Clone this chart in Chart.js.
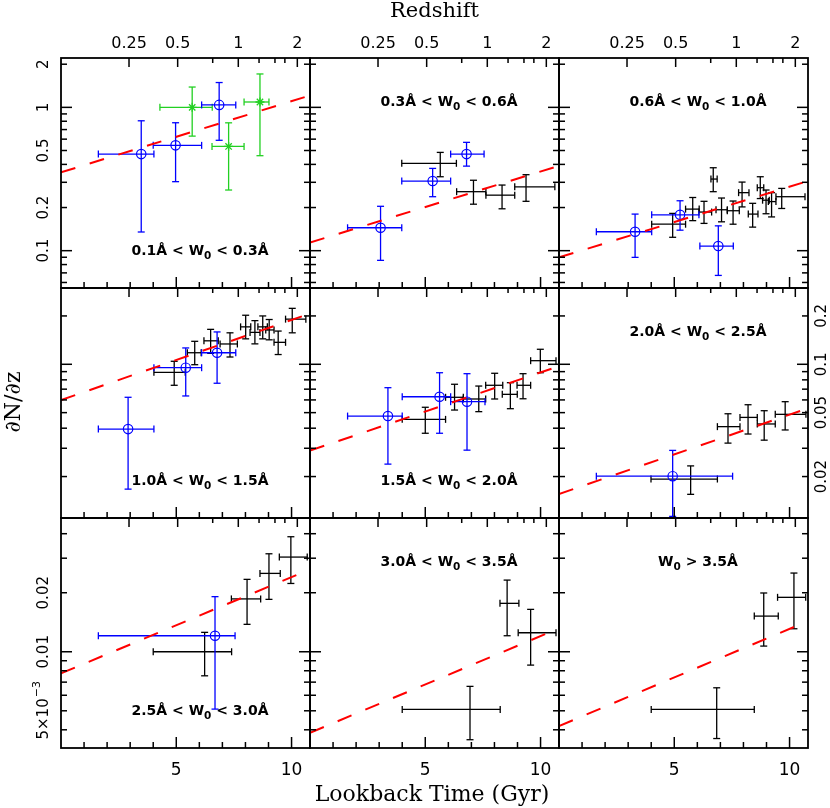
<!DOCTYPE html>
<html>
<head>
<meta charset="utf-8">
<script src="https://cdn.jsdelivr.net/npm/chart.js@4.4.1/dist/chart.umd.min.js"></script>
<style>
body { margin: 0; background: #fff; }
#wrap { position: relative; width: 830px; height: 808px; background: #fff; }
#wrap canvas { position: absolute; left: 0; top: 0; }
</style>
</head>
<body>
<div id="wrap"></div>
<script>
// each point: [lookback, lookbackLo, lookbackHi, dNdz, dNdzLo, dNdzHi]
let blue1 = [[3.48, 1.62, 4.03, 0.472, 0.135, 0.806], [4.97, 4.0, 6.1, 0.543, 0.303, 0.781], [6.86, 6.1, 7.58, 1.04, 0.589, 1.49]];
let green1 = [[5.69, 4.29, 6.56, 1.0, 0.63, 1.386], [7.27, 6.55, 7.94, 0.534, 0.265, 0.78], [8.63, 7.94, 9.02, 1.09, 0.46, 1.71]];

let blue2 = [[3.06, 1.63, 3.98, 0.1445, 0.0856, 0.204], [5.32, 3.98, 6.1, 0.306, 0.238, 0.375], [6.79, 6.1, 7.55, 0.472, 0.389, 0.57]];
let black2 = [[5.65, 3.98, 6.35, 0.407, 0.328, 0.485], [7.09, 6.36, 7.63, 0.258, 0.211, 0.31], [8.33, 7.63, 8.88, 0.244, 0.196, 0.287], [9.37, 8.88, 10.62, 0.279, 0.221, 0.339]];

let blue3 = [[3.30, 1.62, 4.02, 0.1355, 0.0898, 0.18], [5.25, 4.02, 6.07, 0.178, 0.139, 0.223], [6.91, 6.11, 7.56, 0.1077, 0.0672, 0.149]];
let black3 = [[4.93, 4.02, 5.49, 0.153, 0.124, 0.182], [5.80, 5.49, 6.08, 0.195, 0.162, 0.235], [6.29, 6.07, 6.62, 0.186, 0.155, 0.221],
    [6.69, 6.59, 6.86, 0.316, 0.258, 0.379], [7.05, 6.81, 7.30, 0.193, 0.159, 0.233], [7.55, 7.30, 7.82, 0.19, 0.153, 0.222],
    [7.94, 7.79, 8.24, 0.254, 0.202, 0.301], [8.40, 8.21, 8.63, 0.18, 0.146, 0.214], [8.73, 8.60, 8.88, 0.275, 0.231, 0.328],
    [8.98, 8.83, 9.12, 0.225, 0.181, 0.265], [9.22, 9.08, 9.41, 0.22, 0.172, 0.254], [9.66, 9.41, 10.67, 0.238, 0.197, 0.272]];

let blue4 = [[2.91, 1.62, 4.03, 0.0395, 0.0167, 0.0623], [5.41, 4.03, 6.1, 0.0952, 0.0635, 0.1264], [6.77, 6.1, 7.58, 0.118, 0.0762, 0.159]];
let black4 = [[4.91, 4.03, 5.39, 0.0891, 0.074, 0.1044], [5.80, 5.48, 6.08, 0.118, 0.0994, 0.139], [6.49, 6.2, 6.82, 0.14, 0.117, 0.165],
    [7.33, 6.9, 7.65, 0.1338, 0.111, 0.157], [8.01, 7.79, 8.23, 0.171, 0.144, 0.202], [8.41, 8.2, 8.63, 0.158, 0.134, 0.187],
    [8.75, 8.54, 8.95, 0.171, 0.144, 0.2], [9.03, 8.88, 9.24, 0.1636, 0.142, 0.19], [9.42, 9.24, 9.74, 0.137, 0.115, 0.161],
    [10.03, 9.74, 10.62, 0.191, 0.157, 0.223]];

let blue5 = [[3.38, 1.63, 4.0, 0.0476, 0.0239, 0.0715], [5.62, 4.0, 6.1, 0.0628, 0.0372, 0.0886], [6.81, 6.1, 7.59, 0.0585, 0.0292, 0.0874]];
let black5 = [[5.0, 4.0, 5.88, 0.0454, 0.0372, 0.054], [6.27, 5.88, 6.65, 0.0623, 0.0519, 0.0751], [7.32, 6.65, 7.62, 0.0608, 0.0507, 0.0732],
    [8.01, 7.62, 8.36, 0.074, 0.0608, 0.0879], [8.69, 8.34, 8.99, 0.065, 0.0529, 0.0768], [9.24, 8.98, 9.57, 0.074, 0.061, 0.0874],
    [9.99, 9.57, 10.67, 0.1053, 0.0886, 0.124]];

let blue6 = [[4.93, 1.62, 7.53, 0.0201, 0.0113, 0.0291]];
let black6 = [[5.71, 3.99, 6.87, 0.0193, 0.0155, 0.0233], [7.33, 6.87, 7.85, 0.0409, 0.0323, 0.0492], [8.2, 7.85, 8.6, 0.0467, 0.0368, 0.056],
    [8.9, 8.6, 9.38, 0.0425, 0.0337, 0.0514], [9.81, 9.38, 10.71, 0.0488, 0.039, 0.0585]];

let blue7 = [[6.68, 1.62, 7.55, 0.01207, 0.0051, 0.0191]];
let black7 = [[6.23, 4.0, 7.4, 0.01, 0.00754, 0.01256], [8.07, 7.39, 8.66, 0.0186, 0.0138, 0.0234], [9.02, 8.63, 9.51, 0.0251, 0.0185, 0.0316],
    [9.97, 9.47, 10.68, 0.0304, 0.0223, 0.0386]];

let black8 = [[6.94, 4.0, 8.25, 0.00508, 0.00356, 0.00666], [8.55, 8.24, 9.06, 0.01766, 0.01207, 0.0232], [9.57, 9.03, 10.67, 0.0125, 0.00855, 0.01645]];

let black9 = [[6.84, 4.0, 8.47, 0.00508, 0.00361, 0.00655], [8.88, 8.47, 9.51, 0.0152, 0.01069, 0.01994], [10.19, 9.48, 10.7, 0.01895, 0.0131, 0.0252]];

// dashed fit: value at lookback 0 and at the right edge
let fitStart = [0.352, 0.114, 0.0898, 0.0599, 0.029, 0.01556, 0.00776, 0.00386, 0.00418];
let fitEnd = [1.21, 0.391, 0.306, 0.207, 0.0973, 0.0532, 0.0263, 0.01316, 0.01434];

let binLabels = ["0.1Å < W|0| < 0.3Å", "0.3Å < W|0| < 0.6Å", "0.6Å < W|0| < 1.0Å",
    "1.0Å < W|0| < 1.5Å", "1.5Å < W|0| < 2.0Å", "2.0Å < W|0| < 2.5Å",
    "2.5Å < W|0| < 3.0Å", "3.0Å < W|0| < 3.5Å", "W|0| > 3.5Å"];

// axes
let xMax = 10.8;
let lookbackTicks = [1, 2, 3, 4, 5, 6, 7, 8, 9, 10];
let lookbackLabels = [5, 10];
let zLabels = ["0.25", "0.5", "1", "2"];
let zLabelGyr = [2.95, 5.06, 7.69, 10.25];
let zMinorGyr = [6.58, 8.59, 9.28, 9.71];

let rowRange = [[0.0549, 2.21], [0.01104, 0.2985], [0.00323, 0.0481]];
let row1Ticks = [2, 1, 0.5, 0.2, 0.1];
let row2Ticks = [0.2, 0.1, 0.05, 0.02];
let row3Ticks = [0.02, 0.01, 0.005];
let row3Text = ["0.02", "0.01", "5×10^−3"];

// layout
let colLeft = [61, 310, 559];
let rowTop = [58, 288, 518];
let panelW = 249;
let panelH = 230;

function toPoints(arr){
    return arr.map(p => ({ x: p[0], xMin: p[1], xMax: p[2], y: p[3], yMin: p[4], yMax: p[5] }));
}

function line(ctx, x1, y1, x2, y2){
    ctx.beginPath();
    ctx.moveTo(x1, y1);
    ctx.lineTo(x2, y2);
    ctx.stroke();
}

function rotatedText(ctx, text, cx, cy, font){
    ctx.save();
    ctx.translate(cx, cy);
    ctx.rotate(-Math.PI / 2);
    ctx.font = font;
    ctx.textBaseline = "middle";
    if(text.indexOf("^") >= 0){
        let parts = text.split("^");
        let supFont = font.replace(/\d+px/, "11px");
        let w1 = ctx.measureText(parts[0]).width;
        ctx.font = supFont;
        let w2 = ctx.measureText(parts[1]).width;
        let start = -(w1 + w2) / 2;
        ctx.font = font;
        ctx.textAlign = "left";
        ctx.fillText(parts[0], start, 0);
        ctx.font = supFont;
        ctx.fillText(parts[1], start + w1 + 1, -7);
    }
    else{
        ctx.textAlign = "center";
        ctx.fillText(text, 0, 0);
    }
    ctx.restore();
}

function drawBinLabel(ctx, text, cx, baseline){
    // "|0|" marks the subscript
    let parts = text.split("|");
    let font = "bold 14px 'DejaVu Sans'";
    let subFont = "bold 10.5px 'DejaVu Sans'";
    ctx.font = font;
    let w0 = ctx.measureText(parts[0]).width;
    let w2 = ctx.measureText(parts[2]).width;
    ctx.font = subFont;
    let w1 = ctx.measureText(parts[1]).width;
    let x = cx - (w0 + w1 + w2) / 2;
    ctx.textAlign = "left";
    ctx.textBaseline = "alphabetic";
    ctx.font = font;
    ctx.fillText(parts[0], x, baseline);
    ctx.font = subFont;
    ctx.fillText(parts[1], x + w0, baseline + 4);
    ctx.font = font;
    ctx.fillText(parts[2], x + w0 + w1, baseline);
}

let panelPlugin = {
    id: "panel",
    beforeDatasetsDraw(chart){
        let ctx = chart.ctx;
        let xs = chart.scales.x;
        let ys = chart.scales.y;
        let cap = 3.5;
        ctx.save();
        chart.data.datasets.forEach(ds => {
            if(!ds.errorBars) return;
            ctx.strokeStyle = ds.borderColor;
            ctx.lineWidth = 1.3;
            ds.data.forEach(p => {
                let px = xs.getPixelForValue(p.x);
                let py = ys.getPixelForValue(p.y);
                let x1 = xs.getPixelForValue(p.xMin);
                let x2 = xs.getPixelForValue(p.xMax);
                let y1 = ys.getPixelForValue(p.yMin);
                let y2 = ys.getPixelForValue(p.yMax);
                line(ctx, x1, py, x2, py);
                line(ctx, x1, py - cap, x1, py + cap);
                line(ctx, x2, py - cap, x2, py + cap);
                line(ctx, px, y1, px, y2);
                line(ctx, px - cap, y1, px + cap, y1);
                line(ctx, px - cap, y2, px + cap, y2);
            });
        });
        ctx.restore();
    },
    afterDraw(chart){
        let cfg = chart.options.plugins.panel;
        let ctx = chart.ctx;
        let a = chart.chartArea;
        let xs = chart.scales.x;
        let ys = chart.scales.y;
        ctx.save();
        ctx.strokeStyle = "#000";
        ctx.fillStyle = "#000";
        ctx.lineWidth = 1.5;

        // bottom ticks: lookback time
        lookbackTicks.forEach(t => {
            let px = xs.getPixelForValue(t);
            let len = lookbackLabels.includes(t) ? 11 : 6;
            line(ctx, px, a.bottom, px, a.bottom - len);
        });
        // top ticks: redshift
        zLabelGyr.forEach(t => {
            let px = xs.getPixelForValue(t);
            line(ctx, px, a.top, px, a.top + 9);
        });
        zMinorGyr.forEach(t => {
            let px = xs.getPixelForValue(t);
            line(ctx, px, a.top, px, a.top + 5);
        });
        // log ticks left and right
        let lo = Math.floor(Math.log10(ys.min));
        let hi = Math.ceil(Math.log10(ys.max));
        for(let d = lo; d <= hi; d++){
            for(let m = 1; m <= 9; m++){
                let v = m * Math.pow(10, d);
                if(v < ys.min || v > ys.max) continue;
                let py = ys.getPixelForValue(v);
                let len = m === 1 ? 11 : 6;
                line(ctx, a.left, py, a.left + len, py);
                line(ctx, a.right, py, a.right - len, py);
            }
        }
        ctx.lineWidth = 1.8;
        ctx.strokeRect(a.left, a.top, a.right - a.left, a.bottom - a.top);

        // tick labels
        if(cfg.topLabels){
            ctx.font = "16px 'DejaVu Sans'";
            ctx.textAlign = "center";
            ctx.textBaseline = "alphabetic";
            zLabels.forEach((lab, i) => {
                ctx.fillText(lab, xs.getPixelForValue(zLabelGyr[i]), a.top - 10);
            });
        }
        if(cfg.bottomLabels){
            ctx.font = "17px 'DejaVu Sans'";
            ctx.textAlign = "center";
            ctx.textBaseline = "alphabetic";
            lookbackLabels.forEach(t => {
                ctx.fillText(String(t), xs.getPixelForValue(t), a.bottom + 27);
            });
        }
        if(cfg.yTicks){
            let cx = cfg.ySide === "left" ? a.left - 17 : a.right + 14;
            cfg.yTicks.forEach((v, i) => {
                rotatedText(ctx, cfg.yText[i], cx, ys.getPixelForValue(v), "15px 'DejaVu Sans'");
            });
        }

        drawBinLabel(ctx, cfg.label, a.left + 139, a.top + cfg.labelDy);

        if(cfg.titles){
            ctx.font = "21px 'DejaVu Serif'";
            ctx.textAlign = "center";
            ctx.textBaseline = "alphabetic";
            ctx.fillText("Redshift", 434.5, 17);
            ctx.font = "22px 'DejaVu Serif'";
            ctx.fillText("Lookback Time (Gyr)", 432, 801);
            rotatedText(ctx, "∂N/∂z", 14, 402, "22px 'DejaVu Serif'");
        }
        ctx.restore();
    }
};

let panels = [
    { blue: blue1, black: [], green: green1, labelDy: 197 },
    { blue: blue2, black: black2, green: [], labelDy: 48 },
    { blue: blue3, black: black3, green: [], labelDy: 48 },
    { blue: blue4, black: black4, green: [], labelDy: 197 },
    { blue: blue5, black: black5, green: [], labelDy: 197 },
    { blue: blue6, black: black6, green: [], labelDy: 48 },
    { blue: blue7, black: black7, green: [], labelDy: 197 },
    { blue: [], black: black8, green: [], labelDy: 48 },
    { blue: [], black: black9, green: [], labelDy: 48 }
];

let wrap = document.getElementById("wrap");

panels.forEach((p, i) => {
    let row = Math.floor(i / 3);
    let col = i % 3;

    let canvas = document.createElement("canvas");
    canvas.width = 830;
    canvas.height = 808;
    canvas.style.width = "830px";
    canvas.style.height = "808px";
    wrap.appendChild(canvas);

    let yTicks = null, yText = null, ySide = null;
    if(row === 0 && col === 0){ yTicks = row1Ticks; yText = row1Ticks.map(String); ySide = "left"; }
    if(row === 1 && col === 2){ yTicks = row2Ticks; yText = row2Ticks.map(String); ySide = "right"; }
    if(row === 2 && col === 0){ yTicks = row3Ticks; yText = row3Text; ySide = "left"; }

    new Chart(canvas.getContext("2d"), {
        type: "scatter",
        data: {
            datasets: [
                {
                    type: "line",
                    data: [{ x: 0, y: fitStart[i] }, { x: xMax, y: fitEnd[i] }],
                    borderColor: "#ff0000",
                    borderWidth: 2,
                    borderDash: [15, 15],
                    pointRadius: 0,
                    fill: false
                },
                {
                    data: toPoints(p.black),
                    errorBars: true,
                    borderColor: "#000000",
                    pointRadius: 0
                },
                {
                    data: toPoints(p.green),
                    errorBars: true,
                    borderColor: "#22d022",
                    backgroundColor: "#22d022",
                    pointStyle: "star",
                    pointRadius: 4.5,
                    borderWidth: 1.3
                },
                {
                    data: toPoints(p.blue),
                    errorBars: true,
                    borderColor: "#0000ff",
                    backgroundColor: "rgba(0,0,0,0)",
                    pointStyle: "circle",
                    pointRadius: 4.7,
                    borderWidth: 1.2
                }
            ]
        },
        options: {
            responsive: false,
            animation: false,
            devicePixelRatio: 1,
            events: [],
            layout: {
                padding: {
                    left: colLeft[col],
                    top: rowTop[row],
                    right: 830 - colLeft[col] - panelW,
                    bottom: 808 - rowTop[row] - panelH
                }
            },
            scales: {
                x: { type: "linear", min: 0, max: xMax, display: false },
                y: { type: "logarithmic", min: rowRange[row][0], max: rowRange[row][1], display: false }
            },
            plugins: {
                legend: { display: false },
                tooltip: { enabled: false },
                panel: {
                    label: binLabels[i],
                    labelDy: p.labelDy,
                    topLabels: row === 0,
                    bottomLabels: row === 2,
                    yTicks: yTicks,
                    yText: yText,
                    ySide: ySide,
                    titles: i === 0
                }
            }
        },
        plugins: [panelPlugin]
    });
});
</script>
</body>
</html>
